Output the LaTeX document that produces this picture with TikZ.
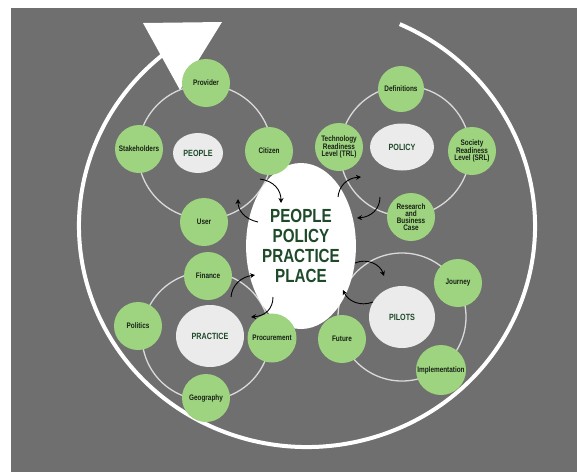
\documentclass[tikz,border=0pt]{standalone}
\usepackage{fontspec}
\setmainfont{Liberation Sans}[FakeStretch=0.8]
\usetikzlibrary{shapes.geometric,arrows.meta}

\definecolor{sfondo}{HTML}{6F6F6F}
\definecolor{verde}{HTML}{9ED47F}
\definecolor{grigio}{HTML}{EBEBEB}
\definecolor{anello}{HTML}{DADADA}
\definecolor{scritta}{HTML}{1E4A2A}
\definecolor{testo}{HTML}{182018}

\begin{document}
\begin{tikzpicture}[x=1pt,y=-1pt,
    item/.style={circle,fill=verde,minimum size=48pt,inner sep=0pt,align=center,
        text=testo,font=\bfseries\fontsize{8}{7}\selectfont},
    tema/.style={ellipse,fill=grigio,inner sep=0pt,text=scritta,
        font=\bfseries\fontsize{9}{10}\selectfont},
    anellino/.style={draw=anello,line width=1.3pt},
    giro/.style={-{Stealth[length=5pt,width=5pt]},line width=0.9pt,black}]

    %sfondo grigio
    \useasboundingbox (0,0) rectangle (577,472);
    \fill[sfondo] (11,8) rectangle (577,472);

    %freccia grande intorno
    \coordinate (c0) at (307,226);
    \draw[white,line width=4pt] (c0) ++(66:228pt and 221pt)
        arc[start angle=66,end angle=-232,x radius=228pt,y radius=221pt];
    \coordinate (t1) at (143,23);
    \coordinate (t2) at (222,22);
    \coordinate (t3) at (180,90);
    \fill[white] (t1) -- (t2) -- (t3) -- cycle;

    %gli anelli
    \draw[anellino] (205,152) circle[radius=67pt];
    \draw[anellino] (405,151) circle[radius=65pt];
    \draw[anellino] (206,336) circle[radius=64pt];
    \draw[anellino] (402,317) circle[radius=64pt];

    %ellisse centrale
    \node[ellipse,fill=white,minimum width=104pt,minimum height=166pt,inner sep=0pt,
        align=center,text=scritta,font=\bfseries\fontsize{19}{20}\selectfont]
        (centro) at (301,246) {PEOPLE\\POLICY\\PRACTICE\\PLACE};

    %people
    \node[tema,minimum width=50pt,minimum height=40pt] (people) at (198,153) {PEOPLE};
    \node[item] (provider) at (206,83) {Provider};
    \node[item] (stake) at (139,149) {Stakeholders};
    \node[item] (citizen) at (269,151) {Citizen};
    \node[item] (user) at (204,222) {User};

    %policy
    \node[tema,minimum width=64pt,minimum height=47pt] (policy) at (402,147) {POLICY};
    \node[item,minimum size=46pt] (defin) at (401,89) {Definitions};
    \node[item] (trl) at (339,147) {Technology\\Readiness\\Level (TRL)};
    \node[item] (srl) at (472,151) {Society\\Readiness\\Level (SRL)};
    \node[item] (research) at (411,217) {Research\\and\\Business\\Case};

    %practice
    \node[tema,minimum width=68pt,minimum height=62pt] (practice) at (210,336) {PRACTICE};
    \node[item] (finance) at (208,276) {Finance};
    \node[item] (politics) at (138,326) {Politics};
    \node[item,minimum size=49pt] (procure) at (272,338) {Procurement};
    \node[item] (geo) at (206,398) {Geography};

    %pilots
    \node[tema,minimum width=66pt,minimum height=62pt] (pilots) at (402,317) {PILOTS};
    \node[item] (journey) at (458,283) {Journey};
    \node[item] (future) at (342,339) {Future};
    \node[item,minimum size=50pt] (impl) at (441,370) {Implementation};

    %frecce piccole
    \coordinate (a1) at (260,179);  \coordinate (b1) at (281,203);
    \coordinate (a2) at (258,222);  \coordinate (b2) at (238,199);
    \coordinate (a3) at (338,197);  \coordinate (b3) at (361,177);
    \coordinate (a4) at (380,197);  \coordinate (b4) at (357,218);
    \coordinate (a5) at (231,297);  \coordinate (b5) at (255,275);
    \coordinate (a6) at (273,297);  \coordinate (b6) at (251,317);
    \coordinate (a7) at (355,263);  \coordinate (b7) at (384,276);
    \coordinate (a8) at (373,302);  \coordinate (b8) at (343,290);

    \draw[giro] (a1) .. controls (274,181) and (281,190) .. (b1);
    \draw[giro] (a2) .. controls (244,219) and (238,210) .. (b2);
    \draw[giro] (a3) .. controls (339,186) and (347,178) .. (b3);
    \draw[giro] (a4) .. controls (380,209) and (371,217) .. (b4);
    \draw[giro] (a5) .. controls (232,285) and (241,277) .. (b5);
    \draw[giro] (a6) .. controls (273,309) and (265,316) .. (b6);
    \draw[giro] (a7) .. controls (367,258) and (380,264) .. (b7);
    \draw[giro] (a8) .. controls (360,307) and (348,301) .. (b8);
\end{tikzpicture}
\end{document}
